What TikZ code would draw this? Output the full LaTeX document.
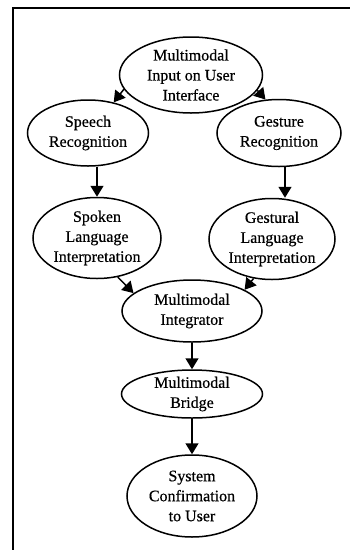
\documentclass[tikz,border=0pt]{standalone}
\usepackage{fontspec}
\setmainfont{Liberation Serif}
\newfontfamily\stagefont{Liberation Serif}[FakeBold=0.5]
\usetikzlibrary{shapes.geometric,arrows.meta}
\begin{document}
\begin{tikzpicture}[x=1pt,y=-1pt,
  stage/.style={ellipse,draw,line width=1.5pt,inner sep=-2pt,align=center,
    font=\stagefont\fontsize{16}{20}\selectfont},
  flow/.style={line width=1.5pt,-{Triangle[length=11pt,width=13pt]}}]
\useasboundingbox (0,0) rectangle (352,550);
\draw[line width=1.8pt] (13,550) -- (13,8) -- (350,8);

\node[stage,minimum width=143pt,minimum height=76pt] (input) at (191,75) {Multimodal\\Input on User\\Interface};
\node[stage,minimum width=121pt,minimum height=66pt] (speech) at (88,133) {Speech\\Recognition};
\node[stage,minimum width=124pt,minimum height=67pt] (gesture) at (279,133) {Gesture\\Recognition};
\node[stage,minimum width=128pt,minimum height=81pt] (spoken) at (97,238) {Spoken\\Language\\Interpretation};
\node[stage,minimum width=126pt,minimum height=81pt] (gestural) at (272,239) {Gestural\\Language\\Interpretation};
\node[stage,minimum width=140pt,minimum height=62pt] (integ) at (192,311) {Multimodal\\Integrator};
\node[stage,minimum width=141pt,minimum height=48pt] (bridge) at (192,394) {Multimodal\\Bridge};
\node[stage,minimum width=130pt,minimum height=82pt] (confirm) at (192,496) {System\\Confirmation\\to User};

\draw[flow] (input.192) -- (speech.50);
\draw[flow] (input.347) -- (gesture.112);
\draw[flow] (spoken.north |- speech.south) -- (spoken.north);
\draw[flow] ([xshift=6pt]gesture.south) -- ([xshift=6pt]gesture.south |- gestural.north);
\draw[flow] (spoken.298) -- (integ.163);
\draw[flow] (gestural.245) -- (integ.22);
\draw[flow] (integ.south) -- (bridge.north);
\draw[flow] (bridge.south) -- (confirm.north);

\end{tikzpicture}
\end{document}
